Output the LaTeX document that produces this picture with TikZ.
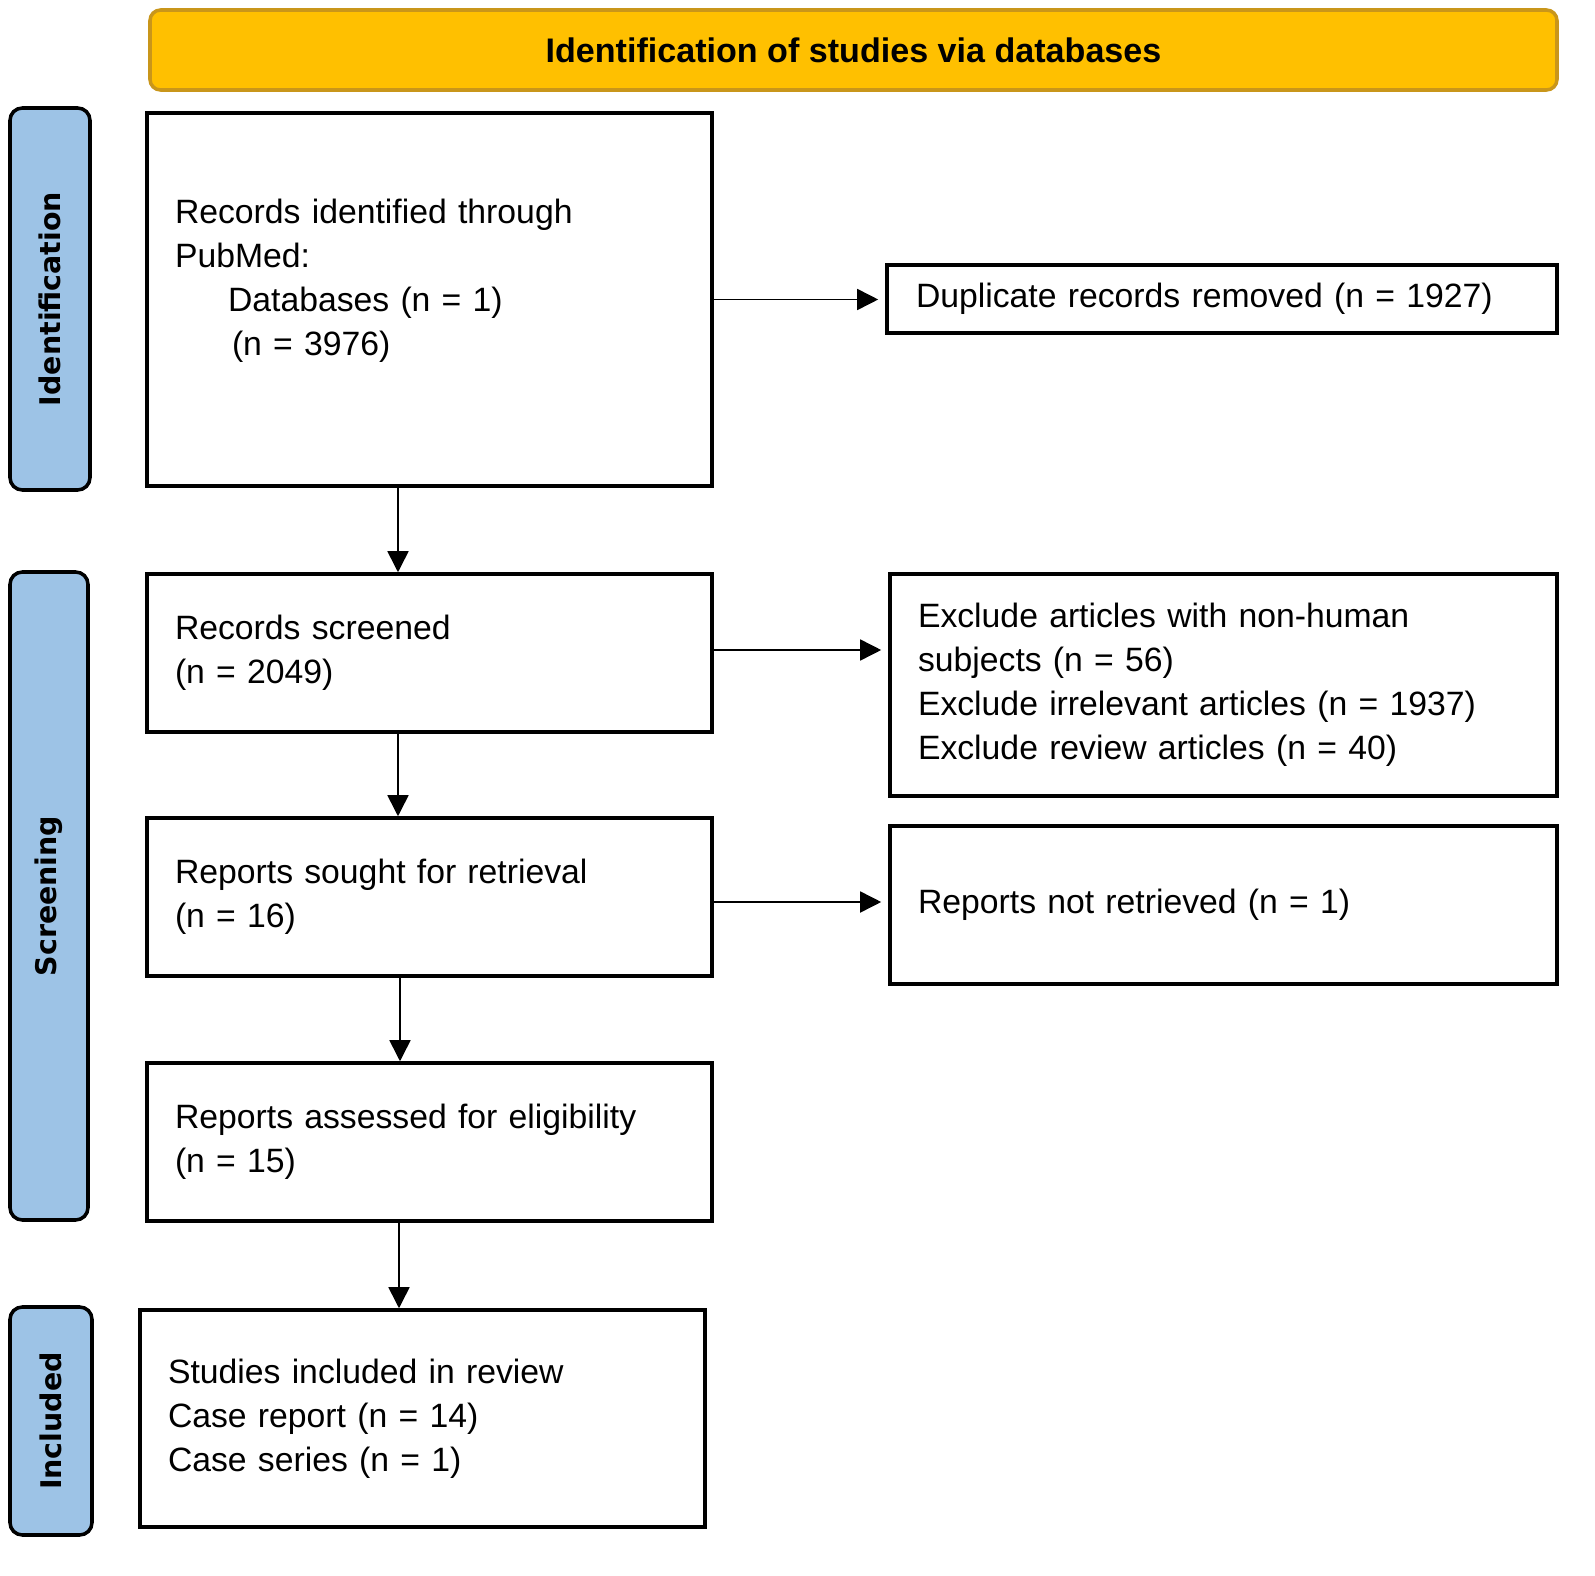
\documentclass[tikz,border=0pt]{standalone}
\usepackage{fontspec}
\setmainfont{Liberation Sans}
\newfontfamily\sidefont{DejaVu Sans}
\usepackage{xcolor}
\usetikzlibrary{calc,positioning,arrows.meta}
\definecolor{headgold}{HTML}{FFC000}
\definecolor{headedge}{HTML}{C9961A}
\definecolor{sideblue}{HTML}{9DC3E6}

\begin{document}
\begin{tikzpicture}
    [auto,
    block/.style={
      rectangle,
      draw=black,
      line width=1pt,
      fill=white,
      minimum width=5.65cm,
      text width=5.09cm,
      inner xsep=0.28cm,
      align=left,
      font=\fontsize{9.6}{12.5}\selectfont
    },
    block1/.style={
      block,
      minimum width=6.67cm,
      text width=6.11cm
    },
    head/.style={
      rectangle,
      draw=headedge,
      line width=1pt,
      fill=headgold,
      rounded corners=3pt,
      minimum width=14.07cm,
      minimum height=0.8cm,
      font=\fontsize{9.7}{12}\selectfont\bfseries
    },
    side/.style={
      rectangle,
      draw=black,
      line width=1pt,
      fill=sideblue,
      rounded corners=3.5pt,
      rotate=90,
      font=\fontsize{8.1}{10}\selectfont\sidefont\bfseries
    },
    line/.style={
      draw,
      line width=0.45pt,
      -{Triangle[length=6pt,width=6pt]}
    }
  ]
    \useasboundingbox (0,0) rectangle (15.95,-15.76);
    \draw (8.535,-0.5) node[head] (H) {Identification of studies via databases};
    \path (0.50,-2.99) node[side, minimum width=3.82cm, minimum height=0.80cm] (S1) {Identification}
          (0.49,-8.96) node[side, minimum width=6.48cm, minimum height=0.78cm] (S2) {Screening}
          (0.51,-14.21) node[side, minimum width=2.28cm, minimum height=0.82cm] (S3) {Included};
    \draw (4.295,-2.995) node[block, minimum height=3.73cm] (A) {Records identified through\\PubMed:\\\hspace*{0.53cm}Databases (n = 1)\\\hspace*{0.57cm}(n = 3976)\\\mbox{}};
    \draw (12.22,-2.99) node[block1, minimum width=6.70cm, text width=6.12cm, minimum height=0.68cm] (B) {Duplicate records removed (n = 1927)};
    \path (4.295,-6.53) node[block, minimum height=1.58cm] (C) {Records screened\\(n = 2049)}
          (4.295,-8.97) node[block, minimum height=1.58cm] (D) {Reports sought for retrieval\\(n = 16)}
          (4.295,-11.42) node[block, minimum height=1.58cm] (E) {Reports assessed for eligibility\\(n = 15)}
          (4.225,-14.185) node[block, minimum height=2.17cm] (F) {Studies included in review\\Case report (n = 14)\\Case series (n = 1)};
    \draw (12.235,-6.85) node[block1, minimum height=2.22cm] (G) {Exclude articles with non-human\\subjects (n = 56)\\Exclude irrelevant articles (n = 1937)\\Exclude review articles (n = 40)};
    \draw (12.235,-9.05) node[block1, minimum height=1.58cm] (K) {Reports not retrieved (n = 1)};
    % down the left column
    \draw[line] ([xshift=-0.315cm]A.south) -- ([xshift=-0.315cm]A.south |- C.north);
    \draw[line] ([xshift=-0.315cm]C.south) -- ([xshift=-0.315cm]C.south |- D.north);
    \draw[line] ([xshift=-0.295cm]D.south) -- ([xshift=-0.295cm]D.south |- E.north);
    \draw[line] ([xshift=-0.305cm]E.south) -- ([xshift=-0.305cm]E.south |- F.north);
    % exclusions
    \draw[line, shorten >=2pt] (A.east) -- (A.east -| B.west);
    \draw[line, shorten >=2pt] ([yshift=0.03cm]C.east) -- ([yshift=0.03cm]C.east -| G.west);
    \draw[line, shorten >=2pt] ([yshift=-0.05cm]D.east) -- ([yshift=-0.05cm]D.east -| K.west);
\end{tikzpicture}
\end{document}
